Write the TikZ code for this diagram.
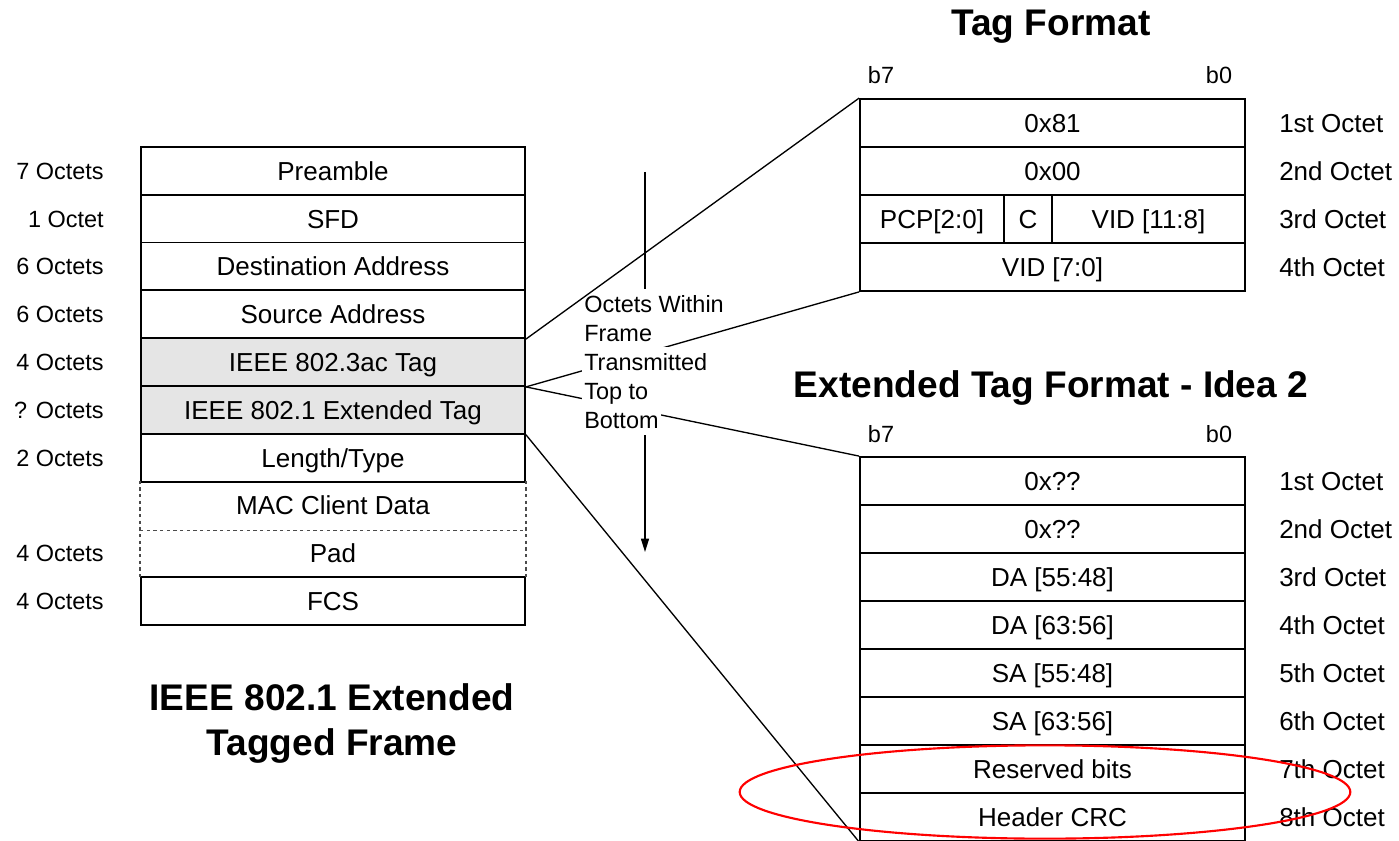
\documentclass[tikz,border=0pt]{standalone}
\usepackage{fontspec}
\setmainfont{Liberation Sans}
\usetikzlibrary{arrows.meta}
\begin{document}
\begin{tikzpicture}[x=0.75pt,y=-0.75pt,
  every node/.style={inner sep=0pt, text depth=0pt},
  tfont/.style={font=\fontsize{19.5}{23}\selectfont, text height=13.96pt},
  sfont/.style={font=\fontsize{17.6}{21}\selectfont, text height=12.6pt},
  cell/.style={tfont, draw, line width=1.35pt, minimum height=36pt, minimum width=288.75pt},
  frcell/.style={cell, minimum height=35.85pt, minimum width=288pt},
  shade/.style={fill=black!10},
  llab/.style={sfont, anchor=east},
  rlab/.style={tfont, anchor=west},
  blab/.style={sfont},
  ttl/.style={font=\fontsize{27.8}{33}\selectfont\bfseries, text height=19.9pt},
  conn/.style={line width=1pt},
  dsh/.style={line width=1pt, dash pattern=on 2.5pt off 2.5pt, black!70},
  mtxt/.style={sfont, fill=white, anchor=west, minimum height=22.5pt, inner xsep=1.5pt},
  ell/.style={draw=red, line width=1.6pt}
]
\useasboundingbox (0,0) rectangle (1399,841);

% ---- frame ----
\node[frcell] (pre) at (333,170.9) {Preamble};
\node[frcell] (sfd) at (333,218.7) {SFD};
\node[frcell] (da) at (333,266.5) {Destination Address};
\node[frcell] (sa) at (333,314.3) {Source Address};
\node[frcell, shade] (tag) at (333,362.1) {IEEE 802.3ac Tag};
\node[frcell, shade] (ext) at (333,409.9) {IEEE 802.1 Extended Tag};
\node[frcell] (lt) at (333,457.7) {Length/Type};
\node[frcell, draw=none] (mac) at (333,505.5) {MAC Client Data};
\node[frcell, draw=none] (pad) at (333,553.3) {Pad};
\node[frcell] (fcs) at (333,601.1) {FCS};
\draw[dsh] (mac.north west) -- (pad.south west);
\draw[dsh] (mac.north east) -- (pad.south east);
\draw[dsh] (mac.south west) -- (mac.south east);

\node[llab] (lpre) at (104,170.9) {7 Octets};
\node[llab] (lsfd) at (104,218.7) {1 Octet};
\node[llab] (lda) at (104,266.5) {6 Octets};
\node[llab] (lsa) at (104,314.3) {6 Octets};
\node[llab] (ltag) at (104,362.1) {4 Octets};
\node[llab] (lext) at (104,409.9) {? Octets};
\node[llab] (llt) at (104,457.7) {2 Octets};
\node[llab] (lpad) at (104,553.3) {4 Octets};
\node[llab] (lfcs) at (104,601.1) {4 Octets};

\node[ttl] (ftitle1) at (332,697) {IEEE 802.1 Extended};
\node[ttl] (ftitle2) at (332,742) {Tagged Frame};

% ---- tag format ----
\node[ttl] (ttitle) at (1051,22) {Tag Format};
\node[blab] (tb7) at (881,75) {b7};
\node[blab] (tb0) at (1219,75) {b0};
\node[cell] (t1) at (1052.5,123) {0x81};
\node[cell] (t2) at (1052.5,171) {0x00};
\node[cell, minimum width=108pt] (t3a) at (932,219) {PCP[2:0]};
\node[cell, minimum width=36pt] (t3b) at (1028,219) {C};
\node[cell, minimum width=144.75pt] (t3c) at (1148.5,219) {VID [11:8]};
\node[cell] (t4) at (1052.5,267) {VID [7:0]};
\node[rlab] (rt1) at (1279,123) {1st Octet};
\node[rlab] (rt2) at (1279,171) {2nd Octet};
\node[rlab] (rt3) at (1279,219) {3rd Octet};
\node[rlab] (rt4) at (1279,267) {4th Octet};

% ---- extended tag format ----
\node[ttl] (etitle) at (1051,384) {Extended Tag Format - Idea 2};
\node[blab] (eb7) at (881,434) {b7};
\node[blab] (eb0) at (1219,434) {b0};
\node[cell] (e1) at (1052.5,481) {0x??};
\node[cell] (e2) at (1052.5,529) {0x??};
\node[cell] (e3) at (1052.5,577) {DA [55:48]};
\node[cell] (e4) at (1052.5,625) {DA [63:56]};
\node[cell] (e5) at (1052.5,673) {SA [55:48]};
\node[cell] (e6) at (1052.5,721) {SA [63:56]};
\node[cell] (e7) at (1052.5,769) {Reserved bits};
\node[cell] (e8) at (1052.5,817) {Header CRC};
\node[rlab] (re1) at (1279,481) {1st Octet};
\node[rlab] (re2) at (1279,529) {2nd Octet};
\node[rlab] (re3) at (1279,577) {3rd Octet};
\node[rlab] (re4) at (1279,625) {4th Octet};
\node[rlab] (re5) at (1279,673) {5th Octet};
\node[rlab] (re6) at (1279,721) {6th Octet};
\node[rlab] (re7) at (1279,769) {7th Octet};
\node[rlab] (re8) at (1279,817) {8th Octet};

% ---- connectors ----
\coordinate (atop) at (645,172);
\coordinate (abot) at (645,552);
\draw[conn, -{Triangle[length=10pt,width=6pt]}] (atop) -- (abot);
\draw[conn] (tag.south east) -- (t4.south west);
\draw[conn] (tag.south east) -- (e1.north west);

\node[mtxt] (m1) at (582,304) {Octets Within};
\node[mtxt] (m2) at (582,333) {Frame};
\node[mtxt] (m3) at (582,362) {Transmitted};
\node[mtxt] (m4) at (582,391) {Top to};
\node[mtxt] (m5) at (582,420) {Bottom};

\draw[conn] (sa.south east) -- (t1.north west);
\draw[conn] (ext.south east) -- (e8.south west);

\draw[ell] (1045,792) ellipse [x radius=229pt, y radius=35pt];
\end{tikzpicture}
\end{document}
